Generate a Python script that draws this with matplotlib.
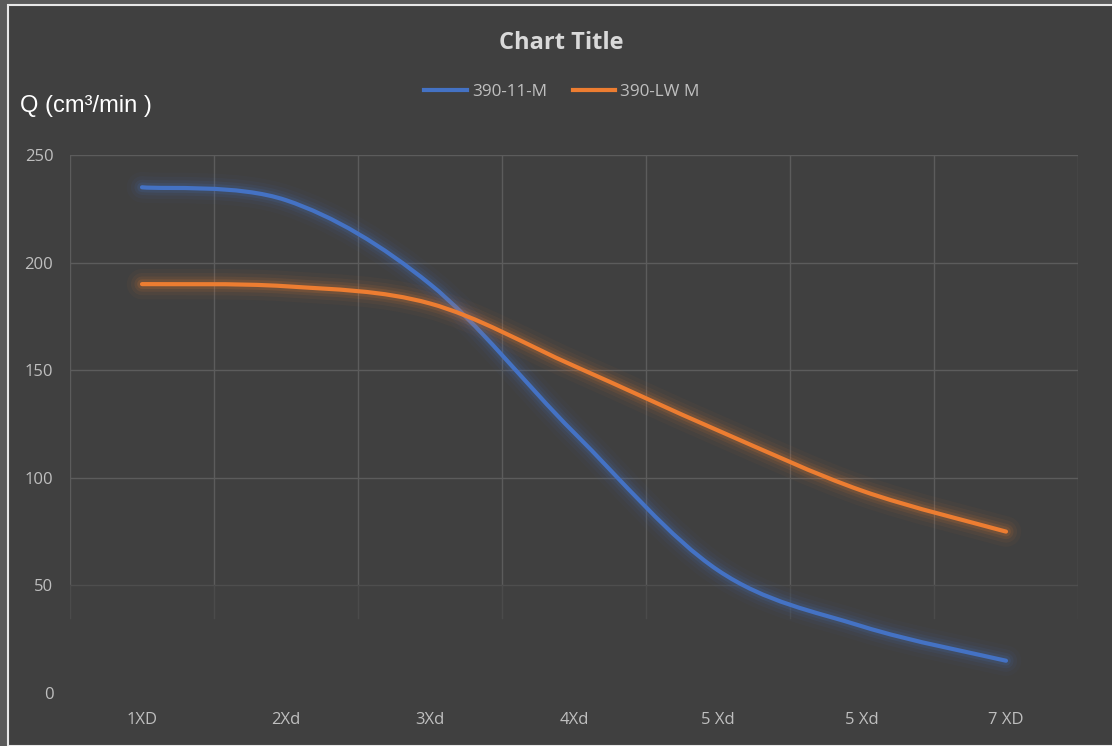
import matplotlib.pyplot as plt
import matplotlib.patheffects as pe
from matplotlib.path import Path
from matplotlib.patches import PathPatch, Rectangle
from matplotlib.lines import Line2D
import numpy as np

# datos
categorias = ['1XD', '2Xd', '3Xd', '4Xd', '5 Xd', '5 Xd', '7 XD']
serie_11m = [235, 229, 190, 121, 57, 31, 15]
serie_lwm = [190, 189, 181, 152, 122, 94, 75]
nombres = ['390-11-M', '390-LW M']
colores = ['#4472C4', '#ED7D31']

fondo = '#404040'
plt.rcParams['font.family'] = ['Open Sans', 'DejaVu Sans']

fig = plt.figure(figsize=(11.12, 7.46), dpi=100)
fig.patch.set_facecolor('#5a5a5a')
# recuadro del grafico con borde blanco
fig.patches.append(Rectangle((8 / 1112, 0), 1.0, 1 - 5 / 746, transform=fig.transFigure,
                             facecolor=fondo, edgecolor='#e8e8e8', linewidth=1.5, zorder=-5))

ax = fig.add_axes([70 / 1112, 1 - 693 / 746, 1008 / 1112, 538 / 746])
ax.set_zorder(2)
ax.patch.set_alpha(0)
ax.set_xlim(-0.5, len(categorias) - 0.5)
ax.set_ylim(0, 250)

# cuadricula
for yv in range(50, 251, 50):
    ax.plot([-0.5, len(categorias) - 0.5], [yv, yv],
            color='#5c5c5c' if yv > 50 else '#4e4e4e', lw=1, zorder=1)
for xv in np.arange(-0.5, len(categorias), 1.0):
    ax.plot([xv, xv], [50, 250], color='#5c5c5c', lw=1, zorder=1)
    ax.plot([xv, xv], [35, 50], color='#4b4b4b', lw=1, zorder=1)


def curva_suave(xs, ys):
    # curva tipo Excel (bezier con tangentes catmull-rom)
    pts = np.column_stack([xs, ys]).astype(float)
    verts = [pts[0]]
    codes = [Path.MOVETO]
    n = len(pts)
    for i in range(n - 1):
        p0 = pts[i - 1] if i > 0 else pts[i]
        p1 = pts[i]
        p2 = pts[i + 1]
        p3 = pts[i + 2] if i + 2 < n else pts[i + 1]
        c1 = p1 + (p2 - p0) / 6
        c2 = p2 - (p3 - p1) / 6
        verts += [c1, c2, p2]
        codes += [Path.CURVE4] * 3
    return Path(verts, codes)


x = np.arange(len(categorias))
for serie, color in zip([serie_11m, serie_lwm], colores):
    brillo = [pe.Stroke(linewidth=w, foreground=color, alpha=a)
              for w, a in [(22, 0.035), (16, 0.06), (11, 0.09), (7, 0.14)]]
    patch = PathPatch(curva_suave(x, serie), fill=False, edgecolor=color, lw=3,
                      capstyle='round', zorder=3)
    patch.set_path_effects(brillo + [pe.Normal()])
    ax.add_patch(patch)

ax.set_xticks(x)
ax.set_xticklabels(categorias)
ax.set_yticks(range(0, 251, 50))
ax.tick_params(axis='both', length=0, colors='#bfbfbf', labelsize=12)
ax.tick_params(axis='y', pad=12)
ax.tick_params(axis='x', pad=14)
for s in ax.spines.values():
    s.set_visible(False)

fig.text(561 / 1112, 1 - 43 / 746, 'Chart Title', ha='center', va='center',
         fontsize=17, fontweight='bold', color='#d9d9d9')
fig.text(20 / 1112, 1 - 106 / 746, 'Q (cm³/min )', ha='left', va='center',
         fontsize=17, color='white', family=['Liberation Sans', 'DejaVu Sans'])

handles = [Line2D([], [], color=c, lw=3) for c in colores]
fig.legend(handles, nombres, loc='center', bbox_to_anchor=(562 / 1112, 1 - 92 / 746), ncol=2,
           frameon=False, fontsize=12.3, labelcolor='#bfbfbf', handlelength=2.5,
           handletextpad=0.3, columnspacing=1.5)

fig.savefig('out.png', dpi=100, facecolor=fig.get_facecolor())
